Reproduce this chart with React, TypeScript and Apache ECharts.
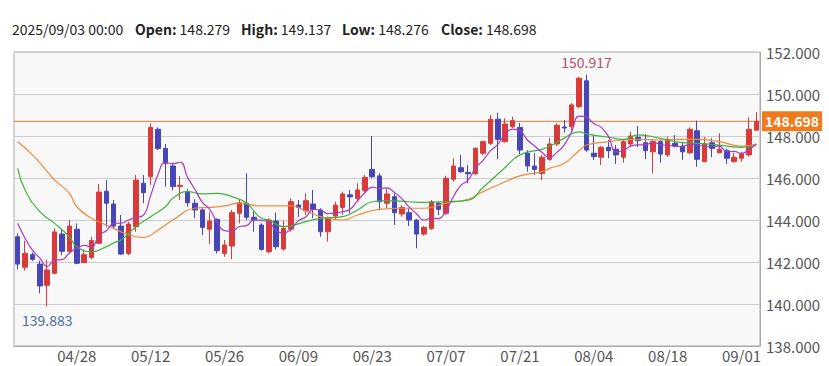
import React, { useEffect, useRef } from 'react';
import * as echarts from 'echarts';

const headerDate = '2025/09/03 00:00';

const categories = [
  '04/16', '04/17', '04/18', '04/21', '04/22', '04/23', '04/24', '04/25', '04/28', '04/29', '04/30',
  '05/01', '05/02', '05/05', '05/06', '05/07', '05/08', '05/09', '05/12', '05/13', '05/14', '05/15', '05/16',
  '05/19', '05/20', '05/21', '05/22', '05/23', '05/26', '05/27', '05/28', '05/29', '05/30',
  '06/02', '06/03', '06/04', '06/05', '06/06', '06/09', '06/10', '06/11', '06/12', '06/13',
  '06/16', '06/17', '06/18', '06/19', '06/20', '06/23', '06/24', '06/25', '06/26', '06/27', '06/30',
  '07/01', '07/02', '07/03', '07/04', '07/07', '07/08', '07/09', '07/10', '07/11', '07/14', '07/15', '07/16',
  '07/17', '07/18', '07/21', '07/22', '07/23', '07/24', '07/25', '07/28', '07/29', '07/30', '07/31',
  '08/01', '08/04', '08/05', '08/06', '08/07', '08/08', '08/11', '08/12', '08/13', '08/14', '08/15',
  '08/18', '08/19', '08/20', '08/21', '08/22', '08/25', '08/26', '08/27', '08/28', '08/29',
  '09/01', '09/02', '09/03',
];

const opens = [
  143.2, 141.75, 142.35, 141.9, 140.89, 141.46, 143.33, 142.51, 143.56, 141.97,
  142.22, 142.89, 145.37, 144.76, 143.71, 142.41, 143.68, 145.75, 146.06, 148.32,
  147.41, 146.57, 145.6, 145.35, 144.8, 144.48, 143.56, 144.03, 142.41, 142.76,
  144.32, 144.8, 144.13, 143.76, 142.49, 143.95, 142.62, 143.56, 144.71, 144.44,
  144.76, 144.48, 143.44, 144.19, 144.6, 145.2, 145.03, 145.4, 146.41, 146.1,
  144.8, 145.11, 144.29, 144.35, 144.0, 143.33, 143.6, 144.8, 144.32, 145.94,
  146.49, 146.27, 146.2, 147.18, 147.65, 148.8, 147.73, 148.44, 148.41, 147.18,
  146.57, 146.22, 146.89, 147.62, 148.43, 148.44, 149.4, 150.63, 147.18, 146.99,
  147.46, 147.37, 146.99, 147.62, 147.94, 147.68, 147.25, 147.73, 147.1, 147.65,
  147.52, 147.2, 148.25, 146.78, 147.68, 147.2, 147.3, 146.78, 146.94, 147.1,
  148.279,
];

const closes = [
  141.9, 142.41, 142.13, 140.86, 141.62, 143.43, 142.51, 143.71, 141.94, 142.35,
  143.02, 145.33, 144.8, 143.71, 142.38, 143.81, 145.9, 145.3, 148.41, 147.41,
  146.7, 145.59, 145.65, 144.82, 144.48, 143.65, 143.95, 142.54, 142.81, 144.35,
  144.82, 144.13, 144.0, 142.6, 144.0, 142.73, 143.6, 144.87, 144.6, 144.92,
  144.51, 143.44, 144.08, 144.71, 145.24, 145.1, 145.43, 146.03, 146.06, 144.87,
  145.24, 144.35, 144.6, 144.0, 143.33, 143.65, 144.87, 144.51, 145.99, 146.57,
  146.3, 146.2, 147.41, 147.73, 148.8, 147.84, 148.57, 148.73, 147.33, 146.57,
  146.41, 146.99, 147.62, 148.51, 148.38, 149.48, 150.75, 147.33, 147.02, 147.46,
  147.3, 147.1, 147.73, 148.0, 147.78, 147.3, 147.73, 147.14, 147.84, 147.52,
  147.25, 148.32, 146.89, 147.62, 147.41, 147.37, 146.94, 146.99, 147.14, 148.32,
  148.698,
];

const lows = [
  141.65, 141.59, 142.05, 140.51, 139.883, 141.46, 142.32, 142.41, 141.9, 141.95,
  142.15, 142.89, 143.68, 143.56, 142.33, 142.33, 143.44, 144.8, 145.67, 147.33,
  145.59, 145.4, 144.95, 144.63, 144.08, 143.29, 142.86, 142.41, 142.25, 142.13,
  143.84, 144.0, 143.44, 142.54, 142.41, 142.6, 142.54, 143.44, 144.16, 144.24,
  144.08, 143.2, 142.97, 144.0, 144.24, 144.32, 144.87, 145.27, 145.99, 144.51,
  144.56, 143.76, 144.16, 143.71, 142.65, 143.25, 143.52, 144.24, 144.24, 145.82,
  146.25, 145.75, 146.14, 147.1, 147.57, 146.89, 147.68, 148.38, 147.14, 146.3,
  146.14, 145.9, 146.82, 147.52, 148.16, 148.2, 149.32, 147.25, 146.86, 146.62,
  146.94, 146.67, 146.73, 147.52, 147.46, 146.9, 146.22, 146.73, 147.0, 147.46,
  146.86, 147.14, 146.54, 146.75, 146.99, 147.18, 146.67, 146.73, 146.78, 147.02,
  148.276,
];

const highs = [
  143.37, 143.01, 142.45, 142.06, 142.1, 143.6, 143.52, 144.0, 143.84, 142.6,
  143.2, 145.71, 145.9, 144.95, 144.24, 143.92, 146.14, 146.14, 148.6, 148.41,
  147.62, 146.67, 146.1, 145.46, 144.99, 144.56, 144.35, 144.08, 143.05, 144.48,
  144.99, 146.22, 144.4, 143.84, 144.08, 144.35, 143.97, 145.03, 144.95, 145.27,
  145.43, 144.56, 144.16, 144.87, 145.35, 145.43, 145.75, 146.14, 148.0, 146.22,
  145.51, 145.27, 144.71, 144.56, 144.03, 143.71, 144.95, 144.87, 146.1, 146.94,
  147.1, 146.62, 147.46, 147.78, 149.0, 149.11, 148.84, 148.92, 148.63, 147.33,
  147.18, 147.1, 147.89, 148.6, 148.76, 149.56, 150.82, 150.917, 148.05, 147.52,
  147.81, 147.57, 147.81, 148.2, 148.48, 148.1, 147.81, 147.81, 147.97, 148.05,
  147.73, 148.41, 148.73, 147.95, 147.89, 148.13, 147.41, 147.2, 147.25, 148.89,
  149.137,
];

// short moving average (purple), one value per candle
const maShort = [
  143.84, 143.13, 142.57, 142.18, 141.78, 142.09, 142.11, 142.43, 142.64, 142.79,
  142.71, 143.27, 143.49, 143.84, 143.85, 144.0, 144.12, 144.22, 145.16, 146.17,
  146.74, 146.68, 146.75, 146.03, 145.45, 144.84, 144.51, 143.89, 143.49, 143.46,
  143.69, 143.73, 144.02, 143.98, 143.91, 143.49, 143.39, 143.56, 143.96, 144.14,
  144.5, 144.47, 144.31, 144.33, 144.4, 144.51, 144.91, 145.3, 145.57, 145.5,
  145.53, 145.31, 145.02, 144.61, 144.3, 143.99, 144.09, 144.07, 144.47, 145.12,
  145.65, 145.91, 146.49, 146.84, 147.29, 147.6, 148.07, 148.33, 148.25, 147.81,
  147.52, 147.21, 146.98, 147.22, 147.58, 148.2, 148.95, 148.89, 148.59, 148.41,
  147.97, 147.24, 147.32, 147.52, 147.58, 147.58, 147.71, 147.59, 147.56, 147.51,
  147.5, 147.61, 147.56, 147.52, 147.5, 147.52, 147.25, 147.27, 147.17, 147.35,
  147.62,
];

// medium moving average (green), [candle index, value] as read
const maMid = [
  [0, 146.46], [1, 145.43], [3, 144.4], [5, 143.84], [7, 143.2], [8, 142.73], [10, 142.49],
  [12, 142.73], [13, 142.92], [14, 143.05], [16, 143.68], [18, 144.16], [20, 144.63],
  [21, 145.03], [23, 145.35], [25, 145.24], [27, 145.27], [29, 145.11], [31, 144.8],
  [33, 144.08], [34, 144.0], [36, 143.68], [39, 143.92], [41, 144.08], [44, 144.16],
  [46, 144.48], [48, 144.87], [50, 144.92], [53, 144.87], [55, 144.84], [58, 144.87],
  [61, 144.95], [63, 145.55], [66, 146.5], [68, 147.1], [71, 147.37], [72, 147.5],
  [74, 147.9], [76, 148.2], [77, 148.1], [80, 147.94], [82, 147.84], [84, 148.05],
  [87, 147.89], [90, 147.68], [92, 147.65], [95, 147.57], [98, 147.46], [100, 147.57],
];

// long moving average (orange), [candle index, value] as read
const maLong = [
  [0, 147.73], [2, 147.1], [4, 146.3], [5, 145.9], [7, 145.27], [8, 144.63], [10, 144.08],
  [12, 143.76], [13, 143.6], [15, 143.3], [17, 143.17], [19, 143.52], [21, 144.0],
  [24, 144.56], [26, 144.6], [28, 144.67], [30, 144.8], [33, 144.67], [37, 144.67],
  [39, 144.44], [41, 144.16], [44, 144.0], [46, 144.24], [49, 144.51], [52, 144.56],
  [55, 144.56], [58, 144.8], [61, 144.99], [63, 145.35], [66, 145.82], [68, 146.1],
  [71, 146.3], [72, 146.46], [74, 146.7], [76, 147.3], [77, 147.57], [80, 147.73],
  [82, 147.81], [84, 147.84], [87, 147.81], [90, 147.84], [92, 147.84], [95, 147.73],
  [98, 147.52], [100, 147.62],
];

const xTickLabels = ['04/28', '05/12', '05/26', '06/09', '06/23', '07/07', '07/21', '08/04', '08/18', '09/01'];

const FONT = '"Noto Sans CJK JP", "Noto Sans", sans-serif';

export default function App() {
  const ref = useRef<HTMLDivElement>(null);

  useEffect(() => {
    document.body.style.margin = '0';
    const chart = echarts.init(ref.current!, null, { renderer: 'svg' });
    const last = categories.length - 1;
    const candles = categories.map((_, i) => [opens[i], closes[i], lows[i], highs[i]]);
    const showTick = (_idx: number, val: string) => xTickLabels.includes(val);
    const f3 = (v: number) => Number(v).toFixed(3);
    const lineColor = '#e8772e';

    const header = [
      { label: '', value: headerDate, x: 12 },
      { label: 'Open:', value: f3(opens[last]), x: 135 },
      { label: 'High:', value: f3(highs[last]), x: 241 },
      { label: 'Low:', value: f3(lows[last]), x: 342 },
      { label: 'Close:', value: f3(closes[last]), x: 441 },
    ];

    chart.setOption({
      animation: false,
      grid: {
        left: 14, right: 69, top: 52, bottom: 20,
        show: true, backgroundColor: '#f8f8f8', borderColor: '#aaaaaa', borderWidth: 1,
      },
      graphic: header.map((h) => ({
        type: 'text',
        x: h.x,
        y: 29,
        style: {
          text: h.label ? `{b|${h.label}} ${h.value}` : h.value,
          fontSize: 14,
          fontFamily: FONT,
          fill: '#222222',
          verticalAlign: 'middle',
          rich: {
            b: { fontSize: 14, fontWeight: 'bold', fontFamily: FONT, fill: '#222222' },
          },
        },
      })),
      xAxis: [
        {
          type: 'category',
          data: categories,
          boundaryGap: true,
          axisLine: { lineStyle: { color: '#aaaaaa' } },
          axisTick: { inside: true, length: 4, alignWithLabel: true, interval: showTick, lineStyle: { color: '#999999' } },
          axisLabel: { interval: showTick, color: '#555555', fontSize: 15, fontFamily: FONT, margin: 2 },
          splitLine: { show: false },
        },
        {
          type: 'category',
          data: [categories[0], categories[last]],
          boundaryGap: false,
          show: false,
        },
      ],
      yAxis: {
        type: 'value',
        position: 'right',
        min: 138,
        max: 152,
        interval: 2,
        axisLine: { show: true, lineStyle: { color: '#aaaaaa' } },
        axisTick: { show: false },
        splitLine: { lineStyle: { color: '#cccccc' } },
        axisLabel: { formatter: (v: number) => v.toFixed(3), color: '#555555', fontSize: 15, fontFamily: FONT, margin: 6 },
      },
      series: [
        {
          type: 'line',
          xAxisIndex: 1,
          data: [closes[last], closes[last]],
          symbol: 'none',
          silent: true,
          z: 1,
          lineStyle: { color: lineColor, width: 1 },
          endLabel: {
            show: true,
            distance: 2,
            formatter: (p: any) => f3(p.value),
            backgroundColor: '#f07b1e',
            color: '#ffffff',
            fontWeight: 'bold',
            fontSize: 14,
            fontFamily: FONT,
            padding: [3, 3, 3, 3],
          },
        },
        {
          type: 'candlestick',
          data: candles,
          barWidth: 5,
          itemStyle: {
            color: '#d93a3a',
            color0: '#4646b6',
            borderColor: '#d93a3a',
            borderColor0: '#4646b6',
            borderWidth: 1,
          },
          markPoint: {
            symbol: 'circle',
            symbolSize: 1,
            itemStyle: { color: 'rgba(0,0,0,0)' },
            label: { formatter: (p: any) => f3(p.value), fontSize: 14, fontFamily: FONT },
            data: [
              { type: 'max', valueDim: 'highest', label: { position: 'top', distance: 5, color: '#b5506e' } },
              { type: 'min', valueDim: 'lowest', label: { position: 'bottom', distance: 6, color: '#4a6b9c' } },
            ],
          },
        },
        {
          type: 'line', data: maLong, smooth: true, symbol: 'none',
          lineStyle: { color: '#ee8a3c', width: 1.2 },
        },
        {
          type: 'line', data: maMid, smooth: true, symbol: 'none',
          lineStyle: { color: '#3db53d', width: 1.2 },
        },
        {
          type: 'line', data: maShort, smooth: true, symbol: 'none',
          lineStyle: { color: '#a83ac8', width: 1.2 },
        },
      ],
    });

    return () => chart.dispose();
  }, []);

  return <div ref={ref} style={{ position: 'absolute', left: 0, top: 0, width: 829, height: 366 }} />;
}
